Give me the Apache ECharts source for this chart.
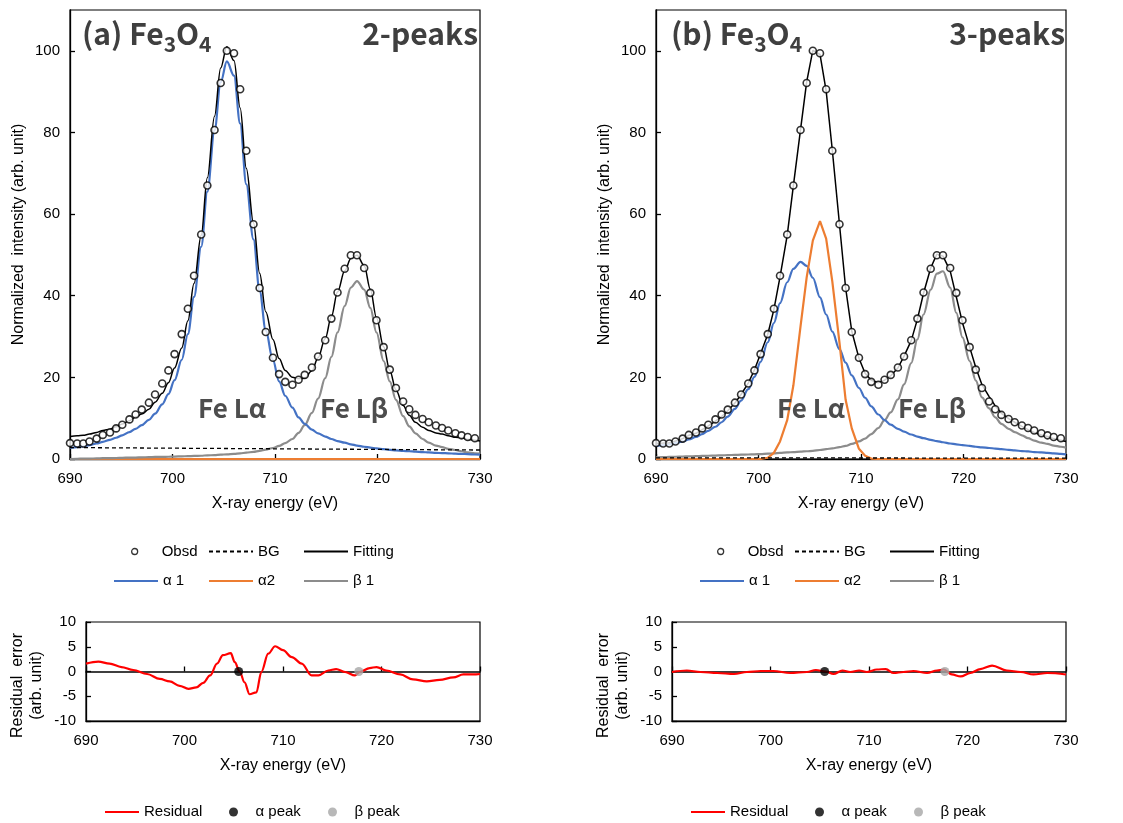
<!DOCTYPE html>
<html>
<head>
<meta charset="utf-8">
<title>Fe3O4 Fe L emission fitting</title>
<script src="https://cdn.jsdelivr.net/npm/echarts/dist/echarts.min.js"></script>
<style>
  html, body { margin: 0; padding: 0; background: #fff; }
  #chart { width: 1123px; height: 823px; }
</style>
</head>
<body>
<div id="chart"></div>
<script>
// measured energies (eV), same spectrum in both panels
const energy = [
  690.0, 690.7, 691.3, 691.9, 692.6, 693.2, 693.9, 694.5, 695.1, 695.8,
  696.4, 697.0, 697.7, 698.3, 699.0, 699.6, 700.2, 700.9, 701.5, 702.1,
  702.8, 703.4, 704.1, 704.7, 705.3, 706.0, 706.6, 707.2, 707.9, 708.5,
  709.1, 709.8, 710.4, 711.0, 711.7, 712.3, 712.9, 713.6, 714.2, 714.9,
  715.5, 716.1, 716.8, 717.4, 718.0, 718.7, 719.3, 719.9, 720.6, 721.2,
  721.8, 722.5, 723.1, 723.7, 724.4, 725.0, 725.7, 726.3, 726.9, 727.6,
  728.2, 728.8, 729.5
];
const obsd = [
  3.9, 3.8, 3.8, 4.3, 5.0, 5.9, 6.5, 7.5, 8.4, 9.7,
  10.9, 12.1, 13.8, 15.8, 18.5, 21.7, 25.7, 30.6, 36.8, 44.9,
  55.0, 67.0, 80.6, 92.1, 100.0, 99.4, 90.6, 75.5, 57.5, 41.9,
  31.1, 24.8, 20.8, 18.9, 18.2, 19.4, 20.6, 22.4, 25.1, 29.1,
  34.4, 40.8, 46.6, 49.9, 49.9, 46.8, 40.7, 34.0, 27.4, 21.9,
  17.4, 14.1, 12.2, 10.8, 9.8, 9.0, 8.2, 7.6, 7.0, 6.3,
  5.8, 5.4, 5.1
];
// fitted curves run to the right edge
const compE = energy.concat([730.0]);

// (a) 2-peaks
const fitA = [
  5.5, 5.7, 5.8, 6.1, 6.5, 7.0, 7.3, 7.9, 8.6, 9.4,
  10.3, 11.0, 12.2, 13.9, 16.1, 18.7, 22.3, 27.2, 33.9, 43.0,
  54.8, 68.9, 84.0, 95.8, 101.0, 97.6, 86.0, 71.2, 57.9, 45.5,
  36.1, 29.3, 24.6, 21.7, 20.0, 19.7, 19.8, 21.6, 24.8, 29.5,
  34.9, 40.9, 46.1, 49.1, 49.9, 47.4, 41.6, 34.6, 27.5, 21.7,
  16.9, 13.1, 10.7, 9.0, 7.8, 7.0, 6.4, 6.1, 5.7, 5.3,
  5.2, 4.8, 4.6, 4.4
];
const alpha1A = [
  2.7, 2.9, 3.1, 3.4, 3.8, 4.2, 4.7, 5.2, 5.8, 6.6,
  7.4, 8.3, 9.6, 11.1, 13.4, 15.9, 19.3, 24.3, 30.6, 39.7,
  52.0, 65.5, 80.5, 92.3, 97.4, 93.9, 82.2, 67.3, 53.8, 41.2,
  31.5, 24.2, 19.0, 15.5, 12.6, 10.2, 8.6, 7.2, 6.3, 5.5,
  4.9, 4.4, 4.0, 3.6, 3.3, 3.0, 2.8, 2.6, 2.4, 2.25,
  2.1, 2.0, 1.9, 1.8, 1.7, 1.6, 1.5, 1.45, 1.4, 1.3,
  1.25, 1.2, 1.1, 1.05
];
const beta1A = [
  0.0, 0.05, 0.1, 0.1, 0.15, 0.2, 0.2, 0.25, 0.3, 0.35,
  0.35, 0.4, 0.45, 0.5, 0.5, 0.55, 0.6, 0.65, 0.7, 0.75,
  0.8, 0.9, 0.95, 1.05, 1.15, 1.25, 1.4, 1.55, 1.75, 2.0,
  2.3, 2.7, 3.2, 3.9, 4.9, 6.4, 8.3, 11.3, 14.8, 19.8,
  25.0, 31.0, 37.5, 42.0, 43.6, 41.5, 37.0, 31.0, 24.0, 19.0,
  14.5, 10.5, 8.0, 6.3, 4.9, 4.0, 3.3, 2.9, 2.5, 2.2,
  1.9, 1.6, 1.4, 1.3
];
const edgeE = [690, 730];
const bgA = [2.8, 2.2];
const alpha2A = [0, 0];

// (b) 3-peaks
const fitB = [
  3.8, 3.9, 4.0, 4.4, 5.0, 5.8, 6.3, 7.2, 8.1, 9.3,
  10.4, 11.8, 13.7, 15.8, 18.6, 21.8, 25.8, 30.5, 36.6, 44.6,
  54.8, 66.9, 80.7, 92.4, 100.1, 99.1, 90.2, 75.7, 57.5, 41.9,
  31.3, 24.7, 21.0, 19.3, 18.7, 19.3, 20.4, 22.3, 25.2, 29.0,
  34.2, 40.6, 46.8, 50.2, 49.7, 46.1, 39.7, 33.4, 27.4, 22.4,
  18.2, 15.3, 13.0, 11.2, 9.9, 9.0, 8.0, 7.2, 6.5, 5.9,
  5.5, 5.0, 4.6, 4.3
];
const alpha1B = [
  3.2, 3.4, 3.6, 3.9, 4.3, 4.8, 5.4, 6.1, 6.9, 7.9,
  9.0, 10.4, 12.3, 14.3, 17.1, 20.1, 23.8, 28.6, 33.3, 38.2,
  43.3, 46.6, 48.3, 47.3, 44.4, 39.6, 35.4, 31.2, 26.9, 23.6,
  20.5, 17.4, 15.0, 12.9, 10.9, 9.5, 8.4, 7.4, 6.7, 6.0,
  5.5, 5.1, 4.7, 4.4, 4.1, 3.8, 3.6, 3.4, 3.2, 3.0,
  2.85, 2.7, 2.55, 2.4, 2.25, 2.1, 1.95, 1.85, 1.7, 1.6,
  1.5, 1.4, 1.25, 1.15
];
const alpha2B = [
  0, 0, 0, 0, 0, 0, 0, 0, 0, 0,
  0, 0, 0, 0, 0, 0, 0, 0.3, 1.5, 4.3,
  9.5, 18.0, 32.5, 44.5, 53.5, 58.3, 54.0, 43.5, 28.5, 14.5,
  7.5, 2.5, 0.8, 0.1, 0, 0, 0, 0, 0, 0,
  0, 0, 0, 0, 0, 0, 0, 0, 0, 0,
  0, 0, 0, 0, 0, 0, 0, 0, 0, 0,
  0, 0, 0, 0
];
const beta1B = [
  0.4, 0.45, 0.5, 0.55, 0.6, 0.65, 0.7, 0.75, 0.8, 0.85,
  0.9, 0.95, 1.0, 1.05, 1.1, 1.15, 1.2, 1.3, 1.4, 1.5,
  1.6, 1.7, 1.8, 1.9, 2.0, 2.2, 2.4, 2.6, 2.9, 3.2,
  3.7, 4.3, 5.0, 6.1, 7.6, 9.5, 11.4, 14.6, 18.3, 23.5,
  29.3, 35.4, 41.5, 45.4, 46.0, 42.0, 35.8, 29.8, 24.0, 19.2,
  15.1, 12.4, 10.2, 8.6, 7.4, 6.6, 5.8, 5.1, 4.5, 4.0,
  3.7, 3.3, 3.0, 2.8
];
const bgB = [0.3, 0.2];

// residuals (fit - obsd)
const resAE = [
  690.0, 691.25, 692.4, 693.6, 694.8, 696.2, 697.5, 698.5, 699.5, 700.4,
  701.2, 701.9, 702.6, 703.3, 703.9, 704.7, 705.1, 705.6, 706.1, 706.6,
  707.3, 707.8, 708.5, 709.2, 710.0, 710.9, 711.9, 712.9, 713.6, 714.6,
  715.4, 716.3, 717.3, 717.8, 718.8, 719.5, 720.5, 721.9, 723.2, 724.6,
  725.9, 727.3, 728.3, 729.3, 730.0
];
const resA = [
  1.6, 2.0, 1.6, 0.9, 0.3, -0.5, -1.5, -2.0, -2.9, -3.5,
  -3.2, -2.3, -0.8, 1.6, 3.3, 3.7, 1.9, 0.0, -2.2, -4.6,
  -4.2, -0.1, 3.6, 5.1, 4.3, 2.9, 1.6, -0.8, -0.8, 0.2,
  0.5, -0.1, -0.8, -0.1, 0.7, 0.9, 0.2, -0.6, -1.6, -2.0,
  -1.7, -1.2, -0.6, -0.6, -0.5
];
const resBE = [
  690.0, 691.5, 692.9, 694.6, 696.3, 697.6, 699.0, 700.3, 702.0, 703.7,
  704.6, 705.6, 706.4, 707.3, 708.1, 709.0, 709.8, 710.8, 711.7, 712.5,
  713.5, 714.5, 715.9, 716.9, 717.6, 718.4, 719.3, 720.3, 721.3, 722.5,
  724.0, 725.4, 726.7, 728.1, 730.0
];
const resB = [
  -0.1, 0.2, -0.1, -0.3, -0.5, -0.1, 0.1, 0.1, -0.3, -0.1,
  0.3, 0.0, -0.5, 0.2, -0.1, 0.2, -0.1, 0.4, 0.5, -0.3,
  -0.1, 0.1, -0.3, 0.2, 0.4, -0.6, -1.0, -0.3, 0.5, 1.2,
  0.2, -0.1, -0.6, -0.3, -0.6
];
// fitted peak positions (eV)
const alphaPeakE = [705.5];
const betaPeakE = [717.7];

const FONT = '"Liberation Sans", Arial, sans-serif';
const TITLE_FONT = '"Noto Sans CJK JP", "Noto Sans", sans-serif';
const BLUE = '#4472C4', ORANGE = '#ED7D31', GRAY = '#8C8C8C', RED = '#FF0000';

const pairs = (xs, ys) => xs.map((x, i) => [x, ys[i]]);
const onZeroLine = xs => xs.map(x => [x, 0]);

function lineSeries(name, axis, data, color, width, smooth, dash) {
  return {
    name: name, type: 'line', xAxisIndex: axis, yAxisIndex: axis < 2 ? axis : (axis < 4 ? 2 : 3),
    data: data, symbol: 'none', smooth: smooth, smoothMonotone: 'x',
    lineStyle: { color: color, width: width, type: dash || 'solid' },
    itemStyle: { color: color }
  };
}
function obsSeries(axis) {
  return {
    name: 'Obsd', type: 'scatter', xAxisIndex: axis, yAxisIndex: axis,
    data: pairs(energy, obsd), symbol: 'circle', symbolSize: 7, z: 5,
    itemStyle: { color: '#fff', borderColor: '#000', borderWidth: 1.6 }
  };
}
function peakSeries(name, xAxis, yAxis, xs, color) {
  return {
    name: name, type: 'scatter', xAxisIndex: xAxis, yAxisIndex: yAxis,
    data: onZeroLine(xs), symbol: 'circle', symbolSize: 9, z: 5,
    itemStyle: { color: color }
  };
}

// axes
function xAxisOf(grid, opts) {
  return Object.assign({
    gridIndex: grid, type: 'value', min: 690, max: 730, interval: 10, position: 'bottom',
    name: 'X-ray energy (eV)', nameLocation: 'middle', nameGap: 37, nameMoveOverlap: false,
    nameTextStyle: { fontSize: 16, color: '#000', fontFamily: FONT },
    axisLine: { show: true, onZero: false, lineStyle: { color: '#000', width: 1.3 } },
    axisTick: { show: true, inside: true, length: 5, lineStyle: { color: '#000', width: 1.3 } },
    axisLabel: { fontSize: 15, color: '#000', margin: 12, fontFamily: FONT },
    splitLine: { show: false }
  }, opts);
}
// axis drawn through y = 0 in the residual plots
function zeroAxisOf(grid) {
  return {
    gridIndex: grid, type: 'value', min: 690, max: 730, interval: 10, position: 'bottom',
    axisLine: { show: true, onZero: true, lineStyle: { color: '#000', width: 1.6 } },
    axisTick: { show: true, inside: true, length: 5, lineStyle: { color: '#000', width: 1.3 } },
    axisLabel: { show: false }, splitLine: { show: false }
  };
}
function yAxisOf(grid, opts) {
  return Object.assign({
    gridIndex: grid, type: 'value', nameLocation: 'middle', nameMoveOverlap: false,
    nameTextStyle: { fontSize: 16, color: '#000', fontFamily: FONT },
    axisLine: { show: true, onZero: false, lineStyle: { color: '#000', width: 1.3 } },
    axisTick: { show: true, inside: true, length: 5, lineStyle: { color: '#000', width: 1.3 } },
    axisLabel: { fontSize: 15, color: '#000', margin: 10, fontFamily: FONT },
    splitLine: { show: false }
  }, opts);
}
const topY = {
  min: 0, max: 110, interval: 20, name: 'Normalized  intensity (arb. unit)', nameGap: 43,
  axisLabel: { fontSize: 15, color: '#000', margin: 10, fontFamily: FONT, showMaxLabel: false }
};
const resY = {
  min: -10, max: 10, interval: 5, name: 'Residual  error\n(arb. unit)', nameGap: 40,
  nameTextStyle: { fontSize: 16, color: '#000', fontFamily: FONT, lineHeight: 19, padding: [0, 28, 0, 0] }
};

// legends, one per entry so they line up in columns
const hideMark = { itemStyle: { opacity: 0 } };
function legendItem(name, left, top, w, h, extra) {
  return {
    data: [Object.assign({ name: name }, extra)],
    left: left, top: top, padding: 0, itemWidth: w, itemHeight: h, itemGap: 0,
    selectedMode: false, textStyle: { fontSize: 15, color: '#000', fontFamily: FONT }
  };
}
function panelLegends(dx) {
  const obsIcon = { icon: 'circle', itemStyle: { color: '#fff', borderColor: '#000', borderWidth: 1.3 } };
  return [
    legendItem('Obsd', 131 + dx, 544, 44, 6, obsIcon),
    legendItem('BG', 208 + dx, 544, 44, 14, hideMark),
    legendItem('Fitting', 303 + dx, 544, 44, 14, hideMark),
    legendItem('α 1', 113 + dx, 573.5, 44, 14, hideMark),
    legendItem('α2', 208 + dx, 573.5, 44, 14, hideMark),
    legendItem('β 1', 303 + dx, 573.5, 44, 14, hideMark),
    legendItem('Residual', 104 + dx, 804.5, 34, 14, hideMark),
    legendItem('α peak', 229 + dx, 804.5, 34, 9, { icon: 'circle' }),
    legendItem('β peak', 328 + dx, 804.5, 34, 9, { icon: 'circle' })
  ];
}

const TITLE_RICH = {
  m: { fontSize: 30, fontWeight: 'bold', fontFamily: TITLE_FONT, color: '#3f3f3f', lineHeight: 42 },
  s: { fontSize: 21, fontWeight: 'bold', fontFamily: TITLE_FONT, color: '#3f3f3f', lineHeight: 21, verticalAlign: 'bottom' }
};
const LABEL_STYLE = { fontSize: 26, fontWeight: 'bold', fontFamily: TITLE_FONT, color: '#4d4d4d', lineHeight: 30 };

const chart = echarts.init(document.getElementById('chart'));
chart.setOption({
  animation: false,
  backgroundColor: '#fff',
  textStyle: { fontFamily: FONT },
  title: [
    { text: '{m|(a) Fe}{s|3}{m|O}{s|4}', left: 82, top: 13, padding: 0, textStyle: { rich: TITLE_RICH } },
    { text: '{m|2-peaks}', right: 645, top: 13, padding: 0, textStyle: { rich: TITLE_RICH } },
    { text: '{m|(b) Fe}{s|3}{m|O}{s|4}', left: 671, top: 13, padding: 0, textStyle: { rich: TITLE_RICH } },
    { text: '{m|3-peaks}', right: 58, top: 13, padding: 0, textStyle: { rich: TITLE_RICH } },
    { text: 'Fe Lα', left: 198, top: 393, padding: 0, textStyle: LABEL_STYLE },
    { text: 'Fe Lβ', left: 320, top: 393, padding: 0, textStyle: LABEL_STYLE },
    { text: 'Fe Lα', left: 777, top: 393, padding: 0, textStyle: LABEL_STYLE },
    { text: 'Fe Lβ', left: 898, top: 393, padding: 0, textStyle: LABEL_STYLE }
  ],
  legend: panelLegends(0).concat(panelLegends(586)),
  grid: [
    { left: 70, top: 10, width: 410, height: 449, show: true, borderColor: '#000', borderWidth: 1.2, outerBoundsMode: 'none' },
    { left: 656, top: 10, width: 410, height: 449, show: true, borderColor: '#000', borderWidth: 1.2, outerBoundsMode: 'none' },
    { left: 86, top: 622, width: 394, height: 99, show: true, borderColor: '#000', borderWidth: 1.2, outerBoundsMode: 'none' },
    { left: 672, top: 622, width: 394, height: 99, show: true, borderColor: '#000', borderWidth: 1.2, outerBoundsMode: 'none' }
  ],
  xAxis: [
    xAxisOf(0),
    xAxisOf(1),
    xAxisOf(2, { axisTick: { show: false } }),
    zeroAxisOf(2),
    xAxisOf(3, { axisTick: { show: false } }),
    zeroAxisOf(3)
  ],
  yAxis: [
    yAxisOf(0, topY),
    yAxisOf(1, topY),
    yAxisOf(2, resY),
    yAxisOf(3, resY)
  ],
  series: [
    // (a)
    lineSeries('α2', 0, pairs(edgeE, alpha2A), ORANGE, 2.2, false),
    lineSeries('β 1', 0, pairs(compE, beta1A), GRAY, 2.2, 0.35),
    lineSeries('α 1', 0, pairs(compE, alpha1A), BLUE, 2.2, 0.35),
    lineSeries('BG', 0, pairs(edgeE, bgA), '#000', 1.3, false, [4, 3]),
    lineSeries('Fitting', 0, pairs(compE, fitA), '#000', 1.5, 0.35),
    obsSeries(0),
    // (b)
    lineSeries('β 1', 1, pairs(compE, beta1B), GRAY, 2.2, 0.35),
    lineSeries('α 1', 1, pairs(compE, alpha1B), BLUE, 2.2, 0.35),
    lineSeries('α2', 1, pairs(compE, alpha2B), ORANGE, 2.2, false),
    lineSeries('BG', 1, pairs(edgeE, bgB), '#000', 1.3, false, [4, 3]),
    lineSeries('Fitting', 1, pairs(compE, fitB), '#000', 1.5, false),
    obsSeries(1),
    // residuals
    lineSeries('Residual', 2, pairs(resAE, resA), RED, 2.2, 0.35),
    peakSeries('α peak', 2, 2, alphaPeakE, '#000'),
    peakSeries('β peak', 2, 2, betaPeakE, '#A6A6A6'),
    lineSeries('Residual', 4, pairs(resBE, resB), RED, 2.2, 0.35),
    peakSeries('α peak', 4, 3, alphaPeakE, '#000'),
    peakSeries('β peak', 4, 3, betaPeakE, '#A6A6A6')
  ]
});
</script>
</body>
</html>
